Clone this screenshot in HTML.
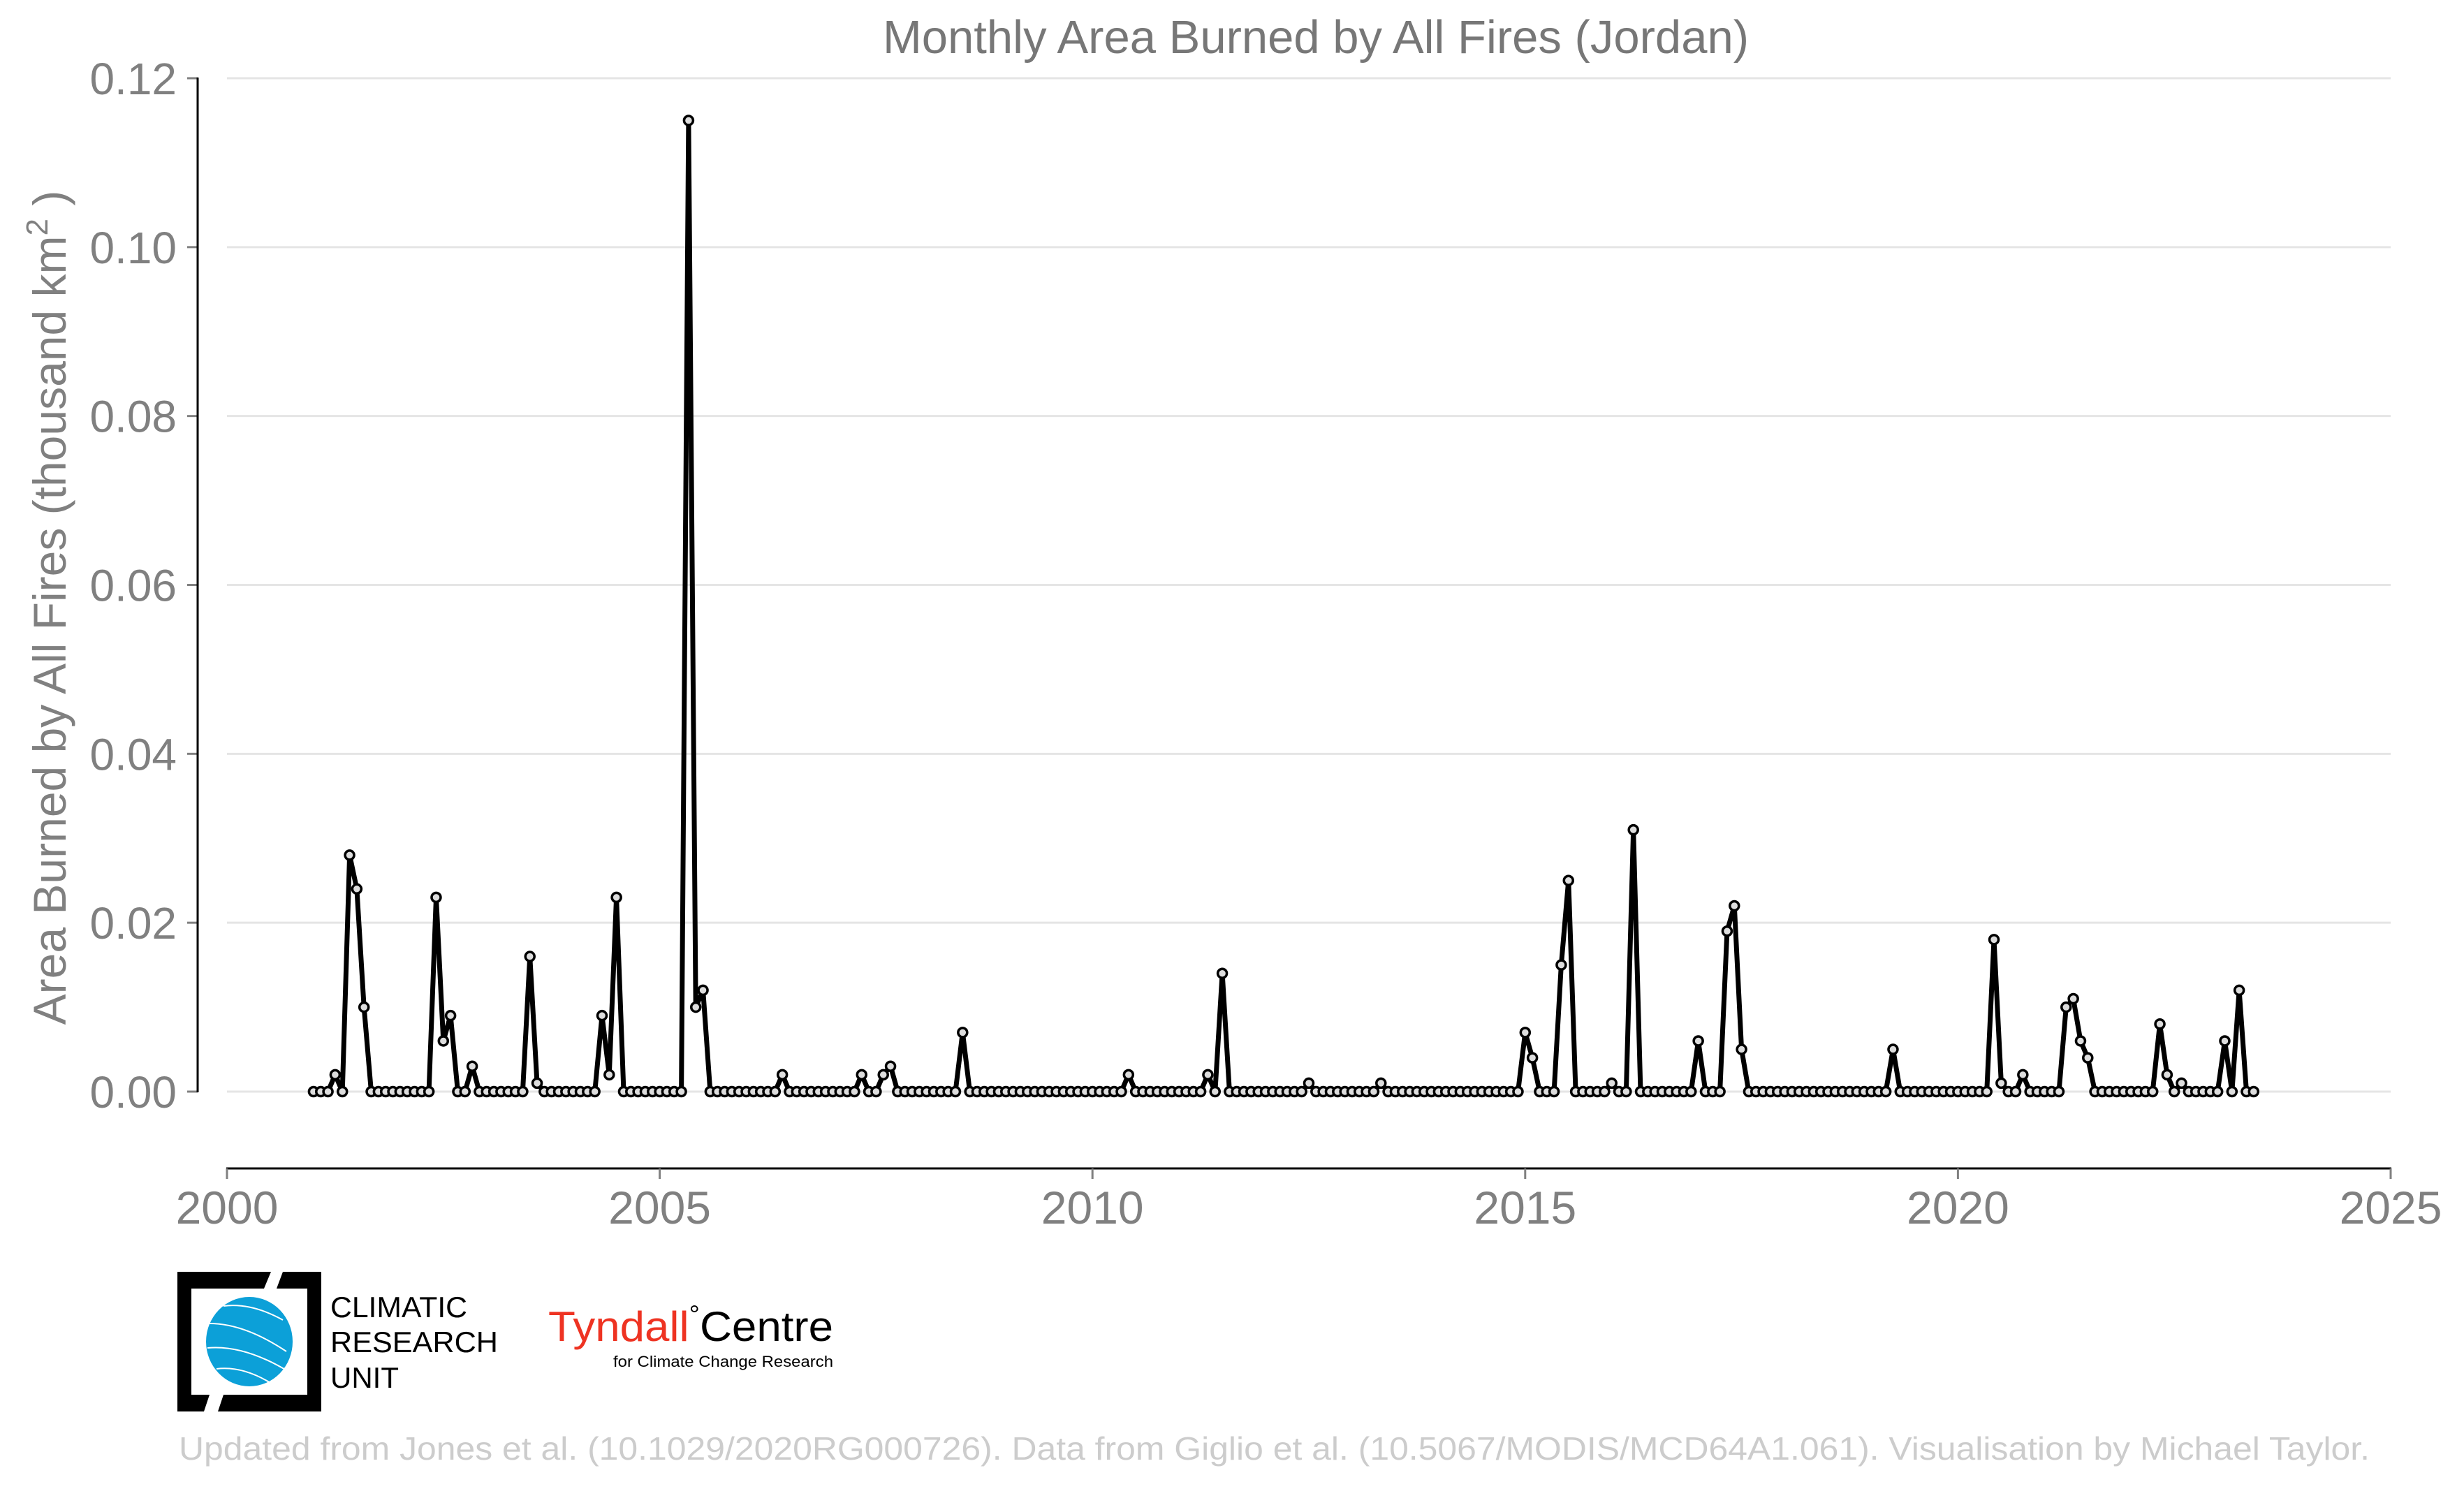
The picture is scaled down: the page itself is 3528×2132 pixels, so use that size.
<!DOCTYPE html>
<html><head><meta charset="utf-8"><style>html,body{margin:0;padding:0;background:#fff}svg{display:block}</style></head>
<body>
<svg id="chart" xmlns="http://www.w3.org/2000/svg" width="3528" height="2132" viewBox="0 0 3528 2132" font-family="'Liberation Sans', Arial, sans-serif">
<rect width="3528" height="2132" fill="#fff"/>
<text x="1884" y="76" font-size="67" fill="#777" text-anchor="middle">Monthly Area Burned by All Fires (Jordan)</text>
<text transform="translate(94,870) rotate(-90)" font-size="66" fill="#808080" text-anchor="middle">Area Burned by All Fires (thousand km<tspan font-size="44" dy="-26">2</tspan><tspan dy="26"> )</tspan></text>
<g id="grid"></g>
<g id="yaxis"></g>
<g id="xaxis"></g>
<g id="series"></g>
<g>
  <path d="M254 1821 H388 L378 1845 H274 V1997 H300 L292 2021 H254 Z" fill="#000"/>
  <path d="M405 1821 H460 V2021 H312 L320 1997 H440 V1845 H396 Z" fill="#000"/>
  <ellipse cx="357" cy="1921" rx="62" ry="64" fill="#0ca0d8"/>
  <path d="M300 1895 Q350 1895 410 1935 M297 1930 Q350 1925 415 1965 M310 1960 Q350 1955 395 1985 M320 1870 Q360 1865 405 1890" stroke="#fff" stroke-width="2" fill="none"/>
  <text x="473" y="1886" font-size="42" fill="#000" textLength="196" lengthAdjust="spacingAndGlyphs">CLIMATIC</text>
  <text x="473" y="1936" font-size="42" fill="#000" textLength="240" lengthAdjust="spacingAndGlyphs">RESEARCH</text>
  <text x="473" y="1987" font-size="42" fill="#000">UNIT</text>
</g>
<g>
  <text x="785" y="1920" font-size="60" fill="#000" textLength="408" lengthAdjust="spacingAndGlyphs"><tspan fill="#ee3322">Tyndall</tspan><tspan font-size="36" dy="-26">°</tspan><tspan dy="26">Centre</tspan></text>
  <text x="878" y="1957" font-size="22" fill="#000" textLength="315" lengthAdjust="spacingAndGlyphs">for Climate Change Research</text>
</g>
<text x="256" y="2090" font-size="46" fill="#cccccc" textLength="3137" lengthAdjust="spacingAndGlyphs">Updated from Jones et al. (10.1029/2020RG000726). Data from Giglio et al. (10.5067/MODIS/MCD64A1.061). Visualisation by Michael Taylor.</text>
<script>
const startYear = 2001;
const values = [
0,0,0,0.002,0,0.028,0.024,0.010,0,0,0,0,
0,0,0,0,0,0.023,0.006,0.009,0,0,0.003,0,
0,0,0,0,0,0,0.016,0.001,0,0,0,0,
0,0,0,0,0.009,0.002,0.023,0,0,0,0,0,
0,0,0,0,0.115,0.010,0.012,0,0,0,0,0,
0,0,0,0,0,0.002,0,0,0,0,0,0,
0,0,0,0,0.002,0,0,0.002,0.003,0,0,0,
0,0,0,0,0,0,0.007,0,0,0,0,0,
0,0,0,0,0,0,0,0,0,0,0,0,
0,0,0,0,0,0.002,0,0,0,0,0,0,
0,0,0,0,0.002,0,0.014,0,0,0,0,0,
0,0,0,0,0,0,0.001,0,0,0,0,0,
0,0,0,0,0.001,0,0,0,0,0,0,0,
0,0,0,0,0,0,0,0,0,0,0,0,
0.007,0.004,0,0,0,0.015,0.025,0,0,0,0,0,
0.001,0,0,0.031,0,0,0,0,0,0,0,0,
0.006,0,0,0,0.019,0.022,0.005,0,0,0,0,0,
0,0,0,0,0,0,0,0,0,0,0,0,
0,0,0,0.005,0,0,0,0,0,0,0,0,
0,0,0,0,0,0.018,0.001,0,0,0.002,0,0,
0,0,0,0.010,0.011,0.006,0.004,0,0,0,0,0,
0,0,0,0,0.008,0.002,0,0.001,0,0,0,0,
0,0.006,0,0.012,0,0
];
const yTicks = [0, 0.02, 0.04, 0.06, 0.08, 0.10, 0.12];
const yTickLabels = ["0.00","0.02","0.04","0.06","0.08","0.10","0.12"];
const xTicks = [2000, 2005, 2010, 2015, 2020, 2025];
const xTickLabels = ["2000","2005","2010","2015","2020","2025"];

const NS = "http://www.w3.org/2000/svg";
const X0 = 325, X1 = 3423, XMIN = 2000, XMAX = 2025;
const Y0 = 1563, Y1 = 112, YMIN = 0, YMAX = 0.12;
function xs(v){ return X0 + (v - XMIN) / (XMAX - XMIN) * (X1 - X0); }
function ys(v){ return Y0 - (v - YMIN) / (YMAX - YMIN) * (Y0 - Y1); }
function mk(tag, attrs, parent){ const e = document.createElementNS(NS, tag); for (const k in attrs) e.setAttribute(k, attrs[k]); parent.appendChild(e); return e; }

const grid = document.getElementById('grid');
const yaxis = document.getElementById('yaxis');
const xaxis = document.getElementById('xaxis');
const series = document.getElementById('series');

yTicks.forEach((t, i) => {
  const g = mk('line', {x1: X0, x2: X1, y1: ys(t), y2: ys(t), stroke: '#e5e5e5', 'stroke-width': 3}, grid);
  
  
  const tk = mk('line', {x1: 268, x2: 283, y1: ys(t), y2: ys(t), stroke: '#808080', 'stroke-width': 3}, yaxis);
  
  
  const lb = mk('text', {x: 253, y: ys(t) + 23, 'font-size': 64, fill: '#808080', 'text-anchor': 'end'}, yaxis);
  lb.textContent = yTickLabels[i];
  
  
});
const ya = mk('line', {x1: 283, x2: 283, y1: ys(YMAX) - 1, y2: ys(0) + 1, stroke: '#000', 'stroke-width': 3}, yaxis);



const xa = mk('line', {x1: X0 - 1, x2: X1 + 1, y1: 1673, y2: 1673, stroke: '#000', 'stroke-width': 3}, xaxis);


xTicks.forEach((t, i) => {
  const tk = mk('line', {x1: xs(t), x2: xs(t), y1: 1673, y2: 1688, stroke: '#808080', 'stroke-width': 3}, xaxis);
  
  
  const lb = mk('text', {x: xs(t), y: 1752, 'font-size': 66, fill: '#808080', 'text-anchor': 'middle'}, xaxis);
  lb.textContent = xTickLabels[i];
  
  
});

const pts = values.map((v, i) => [xs(startYear + i / 12), ys(v)]);
const line = mk('polyline', {points: pts.map(p => p[0].toFixed(1) + ',' + p[1].toFixed(1)).join(' '), fill: 'none', stroke: '#000', 'stroke-width': 7, 'stroke-linejoin': 'round', 'stroke-linecap': 'round'}, series);


pts.forEach(p => {
  const c = mk('circle', {cx: p[0], cy: p[1], r: 6.5, fill: '#dddddd', stroke: '#000', 'stroke-width': 3.5}, series);
  
  
});
</script>
</svg>
</body></html>
